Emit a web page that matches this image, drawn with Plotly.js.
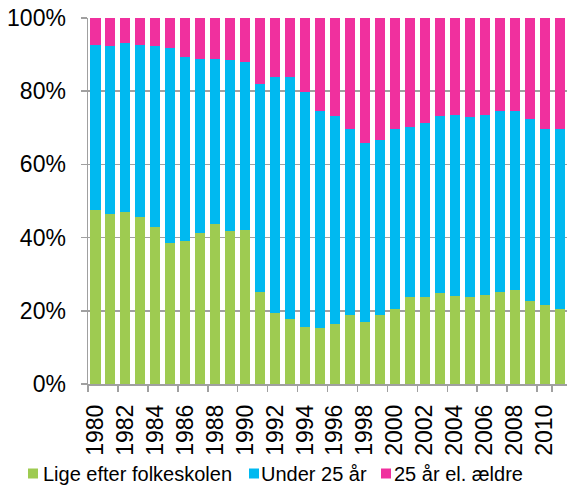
<!DOCTYPE html>
<html>
<head>
<meta charset="utf-8">
<script src="https://cdn.plot.ly/plotly-3.0.1.min.js"></script>
<style>html,body{margin:0;padding:0;background:#fff;}#chart{width:567px;height:486px;}</style>
</head>
<body>
<div id="chart"></div>
<script>
const years = ["1980","1981","1982","1983","1984","1985","1986","1987","1988","1989","1990","1991","1992","1993","1994","1995","1996","1997","1998","1999","2000","2001","2002","2003","2004","2005","2006","2007","2008","2009","2010","2011"];
// Lige efter folkeskolen (share, %)
const ligeEfter = [47.5,46.4,47.0,45.6,42.8,38.5,39.1,41.3,43.7,41.9,42.0,25.1,19.4,17.7,15.7,15.4,16.4,18.9,16.9,18.9,20.6,23.9,23.9,25.0,24.1,23.9,24.4,25.1,25.7,22.8,21.5,20.5];
// Under 25 år (share, %)
const under25 = [45.1,46.0,46.1,47.0,49.5,53.2,50.3,47.6,45.0,46.5,45.9,56.8,64.4,66.2,64.2,59.2,56.8,50.7,48.9,47.7,49.1,46.3,47.4,48.2,49.3,49.0,49.1,49.5,48.8,49.7,48.2,49.2];
// 25 år el. ældre (share, %)
const aeldre = [7.4,7.6,6.9,7.4,7.7,8.3,10.6,11.1,11.3,11.6,12.1,18.1,16.2,16.1,20.1,25.4,26.8,30.4,34.2,33.4,30.3,29.8,28.7,26.8,26.6,27.1,26.5,25.4,25.5,27.5,30.3,30.3];
const seriesNames = ["Lige efter folkeskolen","Under 25 år","25 år el. ældre"];
const colors = ["#9ECB51","#00B9F0","#F0309E"];
const yTickVals = [0,20,40,60,80,100];
const yTickText = ["0%","20%","40%","60%","80%","100%"];
const xTickVals = ["1980","1982","1984","1986","1988","1990","1992","1994","1996","1998","2000","2002","2004","2006","2008","2010"];

const W = 567, H = 486;
const M = {l: 88, r: 0, t: 18, b: 102};
const plotW = W - M.l - M.r, plotH = H - M.t - M.b;
const px2x = p => (p - M.l) / plotW;
const px2y = p => (H - M.b - p) / plotH;

const data = [ligeEfter, under25, aeldre].map((vals, i) => ({
  type: "bar",
  x: years,
  y: vals,
  name: seriesNames[i],
  marker: {color: colors[i], line: {width: 0}},
  showlegend: false
}));

// manual legend (square + label), placed in pixel terms
const legendItems = [
  {sq: 28, tx: 41},
  {sq: 249, tx: 259},
  {sq: 381, tx: 392}
];
const legY = 473.5, sqSize = 10;
const shapes = legendItems.map((it, i) => ({
  type: "rect", xref: "paper", yref: "paper",
  x0: px2x(it.sq), x1: px2x(it.sq + sqSize),
  y0: px2y(legY + sqSize / 2), y1: px2y(legY - sqSize / 2),
  fillcolor: colors[i], line: {width: 0}
}));
const annotations = legendItems.map((it, i) => ({
  xref: "paper", yref: "paper",
  x: px2x(it.tx), y: px2y(legY + 1),
  xanchor: "left", yanchor: "middle",
  text: seriesNames[i], showarrow: false,
  font: {size: 20, color: "#000"}
}));

const layout = {
  width: W, height: H,
  margin: M,
  barmode: "stack",
  bargap: 0.33,
  paper_bgcolor: "#fff",
  plot_bgcolor: "#fff",
  font: {family: "Liberation Sans, Arial, sans-serif", color: "#000", size: 23},
  xaxis: {
    type: "category",
    tickmode: "array",
    tickvals: xTickVals,
    ticktext: xTickVals,
    tickangle: -90,
    tickson: "boundaries",
    ticks: "outside",
    ticklen: 6,
    tickcolor: "#a0a0a0",
    tickwidth: 1.5,
    showline: true,
    linecolor: "#a0a0a0",
    linewidth: 1.5,
    showgrid: false,
    tickfont: {size: 23},
    ticklabelstandoff: 10,
    range: [-0.5, 31.5],
    automargin: false,
    fixedrange: true
  },
  yaxis: {
    range: [0, 100],
    tickmode: "array",
    tickvals: yTickVals,
    ticktext: yTickText,
    ticks: "outside",
    ticklen: 6,
    tickcolor: "#a0a0a0",
    tickwidth: 1.5,
    showline: true,
    linecolor: "#a0a0a0",
    linewidth: 1.5,
    showgrid: true,
    gridcolor: "#a0a0a0",
    gridwidth: 1.5,
    zeroline: false,
    tickfont: {size: 23},
    ticklabelstandoff: 10,
    automargin: false,
    fixedrange: true
  },
  showlegend: false,
  shapes: shapes,
  annotations: annotations
};

Plotly.newPlot("chart", data, layout, {displayModeBar: false, staticPlot: true});
</script>
</body>
</html>
